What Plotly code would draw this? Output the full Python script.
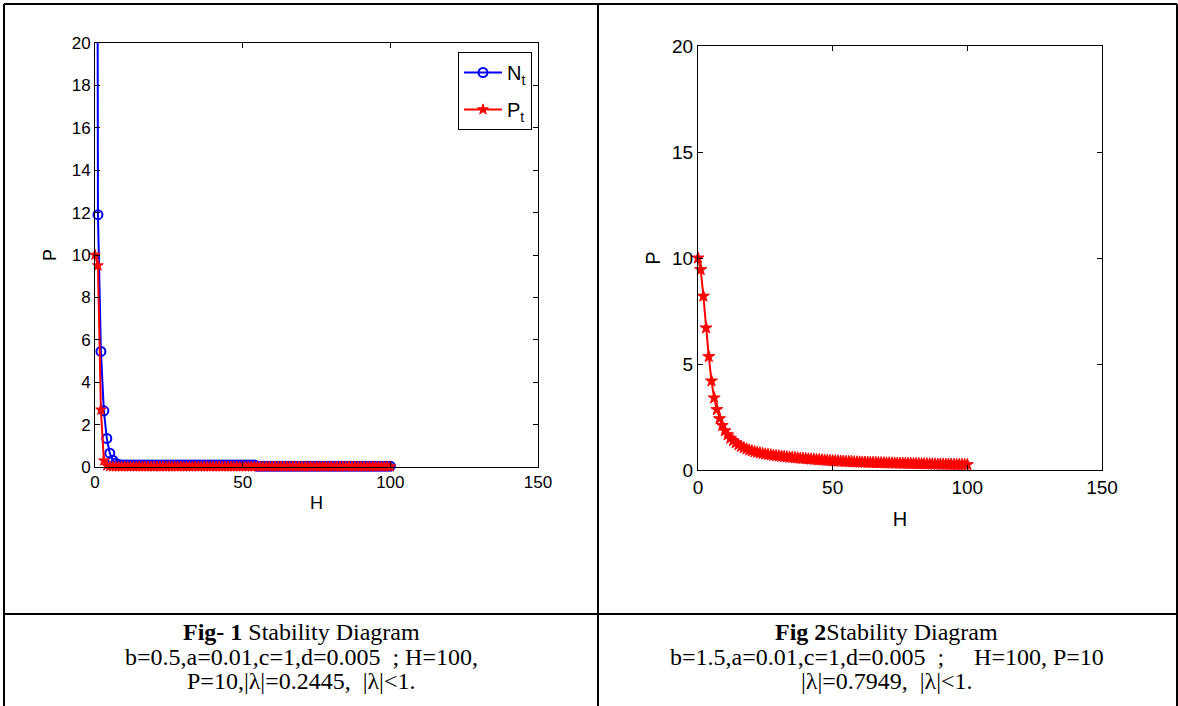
import plotly.graph_objects as go

W, H_PX = 1178, 706

# ---------------- data ----------------
H_steps = list(range(0, 101))

left_N = [100, 11.9, 5.45, 2.65, 1.35, 0.65, 0.32, 0.18, 0.12, 0.1,
          0.1, 0.1, 0.1, 0.1, 0.1, 0.1, 0.1, 0.1, 0.1, 0.1,
          0.1, 0.1, 0.1, 0.1, 0.1, 0.1, 0.1, 0.1, 0.1, 0.1,
          0.1, 0.1, 0.1, 0.1, 0.1, 0.1, 0.1, 0.1, 0.1, 0.1,
          0.1, 0.1, 0.1, 0.1, 0.1, 0.1, 0.1, 0.1, 0.1, 0.1,
          0.1, 0.1, 0.1, 0.1, 0.1,
          0.04, 0.04, 0.04, 0.04, 0.04, 0.04, 0.04, 0.04, 0.04, 0.04,
          0.04, 0.04, 0.04, 0.04, 0.04, 0.04, 0.04, 0.04, 0.04, 0.04,
          0.04, 0.04, 0.04, 0.04, 0.04, 0.04, 0.04, 0.04, 0.04, 0.04,
          0.04, 0.04, 0.04, 0.04, 0.04, 0.04, 0.04, 0.04, 0.04, 0.04,
          0.04, 0.04, 0.04, 0.04, 0.04, 0.04]

left_P = [10, 9.5, 2.7, 0.3, 0.06, 0.03,
          0.02, 0.02, 0.02, 0.02, 0.02, 0.02, 0.02, 0.02, 0.02, 0.02,
          0.02, 0.02, 0.02, 0.02, 0.02, 0.02, 0.02, 0.02, 0.02, 0.02,
          0.02, 0.02, 0.02, 0.02, 0.02, 0.02, 0.02, 0.02, 0.02, 0.02,
          0.02, 0.02, 0.02, 0.02, 0.02, 0.02, 0.02, 0.02, 0.02, 0.02,
          0.02, 0.02, 0.02, 0.02, 0.02, 0.02, 0.02, 0.02, 0.02, 0.02,
          0.02, 0.02, 0.02, 0.02, 0.02, 0.02, 0.02, 0.02, 0.02, 0.02,
          0.02, 0.02, 0.02, 0.02, 0.02, 0.02, 0.02, 0.02, 0.02, 0.02,
          0.02, 0.02, 0.02, 0.02, 0.02, 0.02, 0.02, 0.02, 0.02, 0.02,
          0.02, 0.02, 0.02, 0.02, 0.02, 0.02, 0.02, 0.02, 0.02, 0.02,
          0.02, 0.02, 0.02, 0.02, 0.02]

right_P = [10.0, 9.45, 8.2, 6.7, 5.35, 4.2, 3.4, 2.85, 2.42, 2.1, 1.85,
           1.66, 1.5, 1.38, 1.28, 1.19, 1.11, 1.05, 0.99, 0.94, 0.9,
           0.86, 0.83, 0.8, 0.77, 0.75, 0.73, 0.71, 0.69, 0.675, 0.66,
           0.645, 0.63, 0.615, 0.6, 0.59, 0.575, 0.565, 0.55, 0.54, 0.53,
           0.52, 0.51, 0.5, 0.49, 0.48, 0.47, 0.46, 0.45, 0.44, 0.43,
           0.424, 0.418, 0.412, 0.406, 0.4, 0.394, 0.388, 0.382, 0.376, 0.37,
           0.366, 0.362, 0.358, 0.354, 0.35, 0.346, 0.342, 0.338, 0.334, 0.33,
           0.327, 0.324, 0.321, 0.318, 0.315, 0.312, 0.309, 0.306, 0.303, 0.3,
           0.297, 0.294, 0.291, 0.288, 0.285, 0.282, 0.279, 0.276, 0.273, 0.27,
           0.268, 0.266, 0.264, 0.262, 0.26, 0.258, 0.256, 0.254, 0.252, 0.25]

x_ticks = [0, 50, 100, 150]
left_y_ticks = [0, 2, 4, 6, 8, 10, 12, 14, 16, 18, 20]
right_y_ticks = [0, 5, 10, 15, 20]

caption1 = ["<b>Fig- 1</b> Stability Diagram",
            "b=0.5,a=0.01,c=1,d=0.005\u00a0\u00a0; H=100,",
            "P=10,|λ|=0.2445,\u00a0\u00a0|λ|<1."]
caption2 = ["<b>Fig 2</b>Stability Diagram",
            "b=1.5,a=0.01,c=1,d=0.005\u00a0\u00a0;\u00a0\u00a0\u00a0\u00a0\u00a0H=100, P=10",
            "|λ|=0.7949,\u00a0\u00a0|λ|<1."]

# ---------------- helpers ----------------
def px(x):
    return x / W

def py(y):
    return 1 - y / H_PX

BLUE = "#0000FF"
RED = "#FF0000"

fig = go.Figure()

fig.add_trace(go.Scatter(
    x=H_steps, y=left_N, name="N<sub>t</sub>", mode="lines+markers",
    legendgroup="n",
    line=dict(color=BLUE, width=2),
    marker=dict(symbol="circle-open", size=9, color=BLUE, line=dict(width=2, color=BLUE)),
    cliponaxis=False, xaxis="x", yaxis="y"))
fig.add_trace(go.Scatter(
    x=H_steps, y=left_P, name="P<sub>t</sub>", mode="lines+markers",
    legendgroup="p",
    line=dict(color=RED, width=2),
    marker=dict(symbol="star", size=8, color=RED, line=dict(width=1, color=RED)),
    cliponaxis=False, xaxis="x", yaxis="y"))
fig.add_trace(go.Scatter(
    x=H_steps, y=right_P, name="P", mode="lines+markers", showlegend=False,
    line=dict(color=RED, width=2),
    marker=dict(symbol="star", size=9, color=RED, line=dict(width=1, color=RED)),
    cliponaxis=False, xaxis="x2", yaxis="y2"))

axis_common = dict(showline=True, linecolor="black", linewidth=1, mirror="ticks",
                   ticks="inside", ticklen=5, tickcolor="black", showgrid=False,
                   zeroline=False, automargin=False)

fig.update_layout(
    template="none",
    width=W, height=H_PX, autosize=False,
    margin=dict(l=0, r=0, t=0, b=0, pad=0),
    paper_bgcolor="white", plot_bgcolor="white",
    font=dict(family="Liberation Sans, Arial, sans-serif", color="black"),
    xaxis=dict(domain=[px(95), px(538)], range=[0, 150], tickvals=x_ticks,
               tickfont=dict(size=17), anchor="y",
               title=dict(text="H", font=dict(size=18), standoff=4), **axis_common),
    yaxis=dict(domain=[py(467), py(43)], range=[0, 20], tickvals=left_y_ticks,
               tickfont=dict(size=17), anchor="x",
               title=dict(text="P", font=dict(size=18), standoff=10), **axis_common),
    xaxis2=dict(domain=[px(698), px(1102)], range=[0, 150], tickvals=x_ticks,
                tickfont=dict(size=19), anchor="y2",
                title=dict(text="H", font=dict(size=20), standoff=15), **axis_common),
    yaxis2=dict(domain=[py(470), py(46)], range=[0, 20], tickvals=right_y_ticks,
                tickfont=dict(size=19), anchor="x2",
                title=dict(text="P", font=dict(size=20), standoff=6), **axis_common),
    legend=dict(x=px(458), y=py(52), xanchor="left", yanchor="top",
                bgcolor="white", bordercolor="black", borderwidth=1,
                traceorder="grouped", tracegroupgap=8, itemwidth=38,
                font=dict(size=20, family="Liberation Sans, Arial, sans-serif")),
)

# table lines
line_style = dict(color="black", width=2)
shapes = [
    dict(type="line", xref="paper", yref="paper", x0=px(4), x1=px(1177), y0=py(4), y1=py(4), line=line_style),
    dict(type="line", xref="paper", yref="paper", x0=px(4), x1=px(4), y0=py(4), y1=0, line=line_style),
    dict(type="line", xref="paper", yref="paper", x0=px(1177), x1=px(1177), y0=py(4), y1=0, line=line_style),
    dict(type="line", xref="paper", yref="paper", x0=px(598), x1=px(598), y0=py(4), y1=0, line=line_style),
    dict(type="line", xref="paper", yref="paper", x0=px(4), x1=px(1177), y0=py(614), y1=py(614), line=line_style),
]
fig.update_layout(shapes=shapes)

cap_font = dict(family="Liberation Serif, Times New Roman, serif", size=24, color="black")
line_ys = [632, 657, 681]
for txt, yy in zip(caption1, line_ys):
    fig.add_annotation(text=txt, x=px(301), y=py(yy), xref="paper", yref="paper",
                       showarrow=False, xanchor="center", yanchor="middle", font=cap_font)
for txt, yy in zip(caption2, line_ys):
    fig.add_annotation(text=txt, x=px(887), y=py(yy), xref="paper", yref="paper",
                       showarrow=False, xanchor="center", yanchor="middle", font=cap_font)

fig.write_html("out.html", config={"displayModeBar": False},
               post_script="document.body.style.margin='0';document.body.style.overflow='hidden';")
